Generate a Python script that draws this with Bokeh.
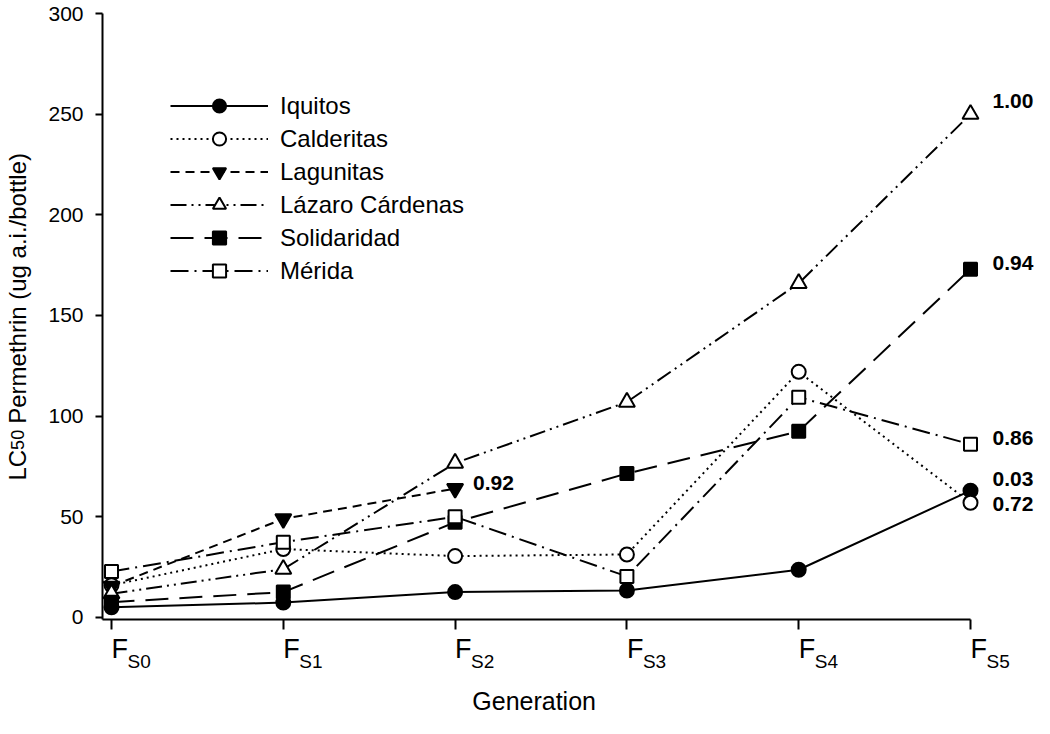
from bokeh.plotting import figure
from bokeh.models import (Range1d, FixedTicker, Legend, LegendItem, Label,
                          ColumnDataSource)
from bokeh.embed import file_html
from bokeh.resources import INLINE

# ---------------- data ----------------
generations = [0, 1, 2, 3, 4, 5]
gen_main = ["F", "F", "F", "F", "F", "F"]
gen_sub = ["S0", "S1", "S2", "S3", "S4", "S5"]
y_ticks = [0, 50, 100, 150, 200, 250, 300]

iquitos = [5.1, 7.4, 12.6, 13.4, 23.7, 63.0]
calderitas = [16.0, 34.0, 30.5, 31.3, 122.0, 57.0]
lagunitas = [15.5, 49.0, 64.0]
lazaro = [11.8, 24.0, 76.7, 107.0, 166.0, 250.0]
solidaridad = [7.6, 12.6, 47.3, 71.5, 92.5, 173.0]
merida = [22.8, 37.4, 50.0, 20.4, 109.4, 86.0]

series_names = ["Iquitos", "Calderitas", "Lagunitas", "Lázaro Cárdenas",
                "Solidaridad", "Mérida"]
end_values = ["0.03", "0.72", "0.92", "1.00", "0.94", "0.86"]

FONT = "Liberation Sans"
X0, X1 = -0.0524, 5.3725

p = figure(width=1034, height=718, output_backend="svg", toolbar_location=None,
           x_range=Range1d(X0, X1), y_range=Range1d(-1.0, 300.0),
           min_border_left=102, min_border_right=0, min_border_top=13,
           min_border_bottom=99)
p.outline_line_color = None
p.xgrid.visible = False
p.ygrid.visible = False
p.background_fill_color = "white"
p.border_fill_color = "white"

# axes
p.xaxis.bounds = (X0, 5)
p.xaxis.ticker = FixedTicker(ticks=generations)
p.xaxis.major_label_overrides = {g: "" for g in generations}
p.xaxis.major_label_text_font_size = "1px"
p.yaxis.ticker = FixedTicker(ticks=y_ticks)
p.yaxis.major_label_text_font = FONT
p.yaxis.major_label_text_font_size = "21px"
p.yaxis.major_label_text_color = "black"
p.yaxis.major_label_standoff = 12
for ax in (p.xaxis[0], p.yaxis[0]):
    ax.axis_line_width = 2
    ax.axis_line_color = "black"
    ax.major_tick_line_width = 2
    ax.major_tick_line_color = "black"
    ax.major_tick_in = 0
    ax.minor_tick_line_color = None
p.xaxis.major_tick_out = 10
p.yaxis.major_tick_out = 7

# series
styles = [
    (iquitos, "solid", "circle", "black", 14),
    (calderitas, "2 4", "circle", "white", 14),
    (lagunitas, "9 6", "inverted_triangle", "black", 16),
    (lazaro, "16 5 2 5 2 5", "triangle", "white", 16),
    (solidaridad, "23 11", "square", "black", 13),
    (merida, "18 6 2 6", "square", "white", 13),
]

items = []
for name, (vals, dash, marker, fill, size) in zip(series_names, styles):
    xs = generations[:len(vals)]
    lr = p.line(xs, vals, line_color="black", line_width=2, line_dash=dash)
    sr = p.scatter(xs, vals, marker=marker, size=size, fill_color=fill,
                   line_color="black", line_width=2)
    items.append(LegendItem(label=name, renderers=[lr, sr]))

legend = Legend(items=items, location=(68, 332), glyph_width=98,
                glyph_height=33, label_height=20, spacing=0, padding=0,
                margin=0, label_standoff=12, border_line_color=None,
                background_fill_alpha=0, label_text_font=FONT,
                label_text_font_size="24px", label_text_color="black")
p.add_layout(legend)

# end-of-series correlation labels
series_vals = [iquitos, calderitas, lagunitas, lazaro, solidaridad, merida]
label_dy = [12, -1, 6, 13, 6, 6]
label_dx = [22, 22, 18, 22, 22, 22]
for vals, txt, dy, dx in zip(series_vals, end_values, label_dy, label_dx):
    p.add_layout(Label(x=len(vals) - 1, y=vals[-1], text=txt, x_offset=dx,
                       y_offset=dy, text_font=FONT, text_font_size="21px",
                       text_font_style="bold", text_baseline="middle",
                       text_align="left", text_color="black"))

# x tick labels: F with subscript (drawn as unclipped overlay text)
F_MID_Y = -15.9
S_MID_Y = -21.7
src = ColumnDataSource(dict(x=generations, yf=[F_MID_Y] * 6, ys=[S_MID_Y] * 6,
                            main=gen_main, sub=gen_sub))
p.text(x="x", y="yf", text="main", source=src, text_font={"value": FONT},
       text_font_size="27px", text_align="left", text_baseline="middle",
       text_color="black", level="overlay")
p.text(x="x", y="ys", text="sub", source=src, x_offset=16,
       text_font={"value": FONT}, text_font_size="19px", text_align="left",
       text_baseline="middle", text_color="black", level="overlay")

# x axis title
p.text(x=[2.46], y=[-41.6], text=["Generation"], text_font={"value": FONT},
       text_font_size="25px", text_align="center", text_baseline="middle",
       text_color="black", level="overlay")

# y axis title with small "50"
ang = 1.5707963
TX = -0.5495
p.text(x=[TX], y=[68.0], text=["LC"], angle=ang, text_font={"value": FONT},
       text_font_size="24px", text_baseline="middle", text_align="left",
       text_color="black", level="overlay")
p.text(x=[TX], y=[83.25], text=["50"], angle=ang,
       text_font={"value": FONT}, text_font_size="18px",
       text_baseline="middle", text_align="left", text_color="black",
       level="overlay")
p.text(x=[TX], y=[96.2], text=["Permethrin (ug a.i./bottle)"], angle=ang,
       text_font={"value": FONT}, text_font_size="24px",
       text_baseline="middle", text_align="left", text_color="black",
       level="overlay")

open("out.html", "w").write(file_html(p, INLINE))
